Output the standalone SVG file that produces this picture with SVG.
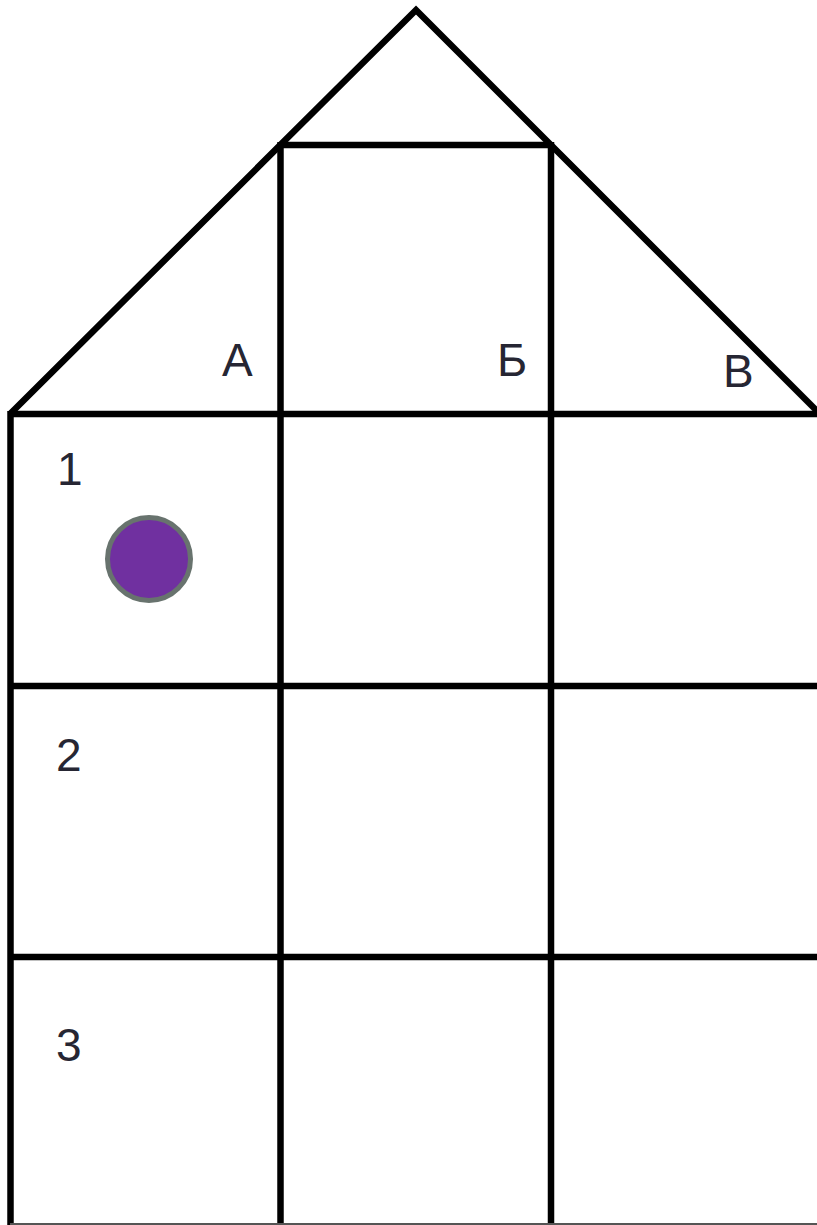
<svg xmlns="http://www.w3.org/2000/svg" width="817" height="1225" viewBox="0 0 817 1225">
<style>
.ln{stroke:#000;stroke-width:6.5;fill:none;stroke-linecap:butt}
.lbl{font-family:"Liberation Sans",Arial,sans-serif;font-size:46px;fill:#262633}
</style>
<rect x="0" y="0" width="817" height="1225" fill="#fff"/>
<g id="connectors">
<path class="ln" d="M10,414 L416,10 L820,414"/>
<path class="ln" d="M280,145 L551,145"/>
<path class="ln" d="M10,414 L817,414"/>
<path class="ln" d="M10,686 L817,686"/>
<path class="ln" d="M10,957 L817,957"/>
<path class="ln" d="M10.5,411 L10.5,1225"/>
<path class="ln" d="M280.5,142 L280.5,1225"/>
<path class="ln" d="M551,142 L551,1225"/>
<path d="M10,1224 L817,1224" stroke="#555" stroke-width="2"/>
</g>
<g id="label-A"><text class="lbl" x="222" y="376">А</text></g>
<g id="label-B"><text class="lbl" x="497" y="376">Б</text></g>
<g id="label-V"><text class="lbl" x="723" y="387">В</text></g>
<g id="row-1"><text class="lbl" x="57" y="485">1</text></g>
<g id="row-2"><text class="lbl" x="56" y="771">2</text></g>
<g id="row-3"><text class="lbl" x="56" y="1061">3</text></g>
<g id="token"><circle cx="149" cy="559" r="41.5" fill="#7030a0" stroke="#68736e" stroke-width="5"/></g>
</svg>
